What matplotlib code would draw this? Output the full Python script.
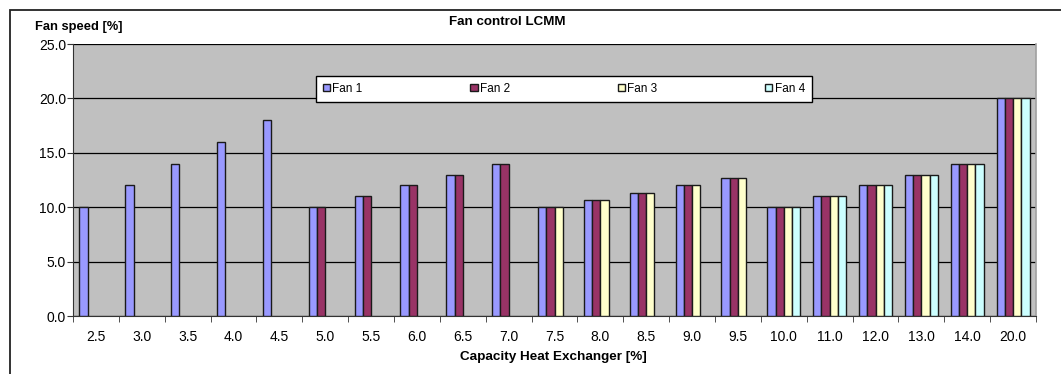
import matplotlib
matplotlib.use("Agg")
import matplotlib.pyplot as plt
import numpy as np
from matplotlib.patches import Rectangle

plt.rcParams['font.family'] = ['Liberation Sans', 'DejaVu Sans']

categories = ["2.5", "3.0", "3.5", "4.0", "4.5", "5.0", "5.5", "6.0", "6.5", "7.0",
              "7.5", "8.0", "8.5", "9.0", "9.5", "10.0", "11.0", "12.0", "13.0", "14.0", "20.0"]
fan1 = [10, 12, 14, 16, 18, 10, 11, 12, 13, 14,
        10, 10.67, 11.33, 12, 12.67, 10, 11, 12, 13, 14, 20]
fan2 = [None, None, None, None, None, 10, 11, 12, 13, 14,
        10, 10.67, 11.33, 12, 12.67, 10, 11, 12, 13, 14, 20]
fan3 = [None] * 10 + [10, 10.67, 11.33, 12, 12.67, 10, 11, 12, 13, 14, 20]
fan4 = [None] * 15 + [10, 11, 12, 13, 14, 20]
series = {"Fan 1": fan1, "Fan 2": fan2, "Fan 3": fan3, "Fan 4": fan4}
colors = ["#9999FF", "#993366", "#FFFFCC", "#CCFFFF"]

fig = plt.figure(figsize=(10.61, 3.74), dpi=100)
ax = fig.add_axes([73 / 1061, 58 / 374, 963 / 1061, 272 / 374])
ax.set_facecolor("#C0C0C0")

x = np.arange(len(categories))
w = 0.18
for i, (name, vals) in enumerate(series.items()):
    xs = [x[j] + (i - 1.5) * w for j, v in enumerate(vals) if v is not None]
    hs = [v for v in vals if v is not None]
    ax.bar(xs, hs, width=w, color=colors[i], edgecolor="#1a1a1a",
           linewidth=1.0, label=name, zorder=3)

ax.set_xlim(-0.5, len(categories) - 0.5)
ax.set_ylim(0, 25)
ax.set_yticks(np.arange(0, 26, 5))
ax.set_yticklabels([f"{v:.1f}" for v in np.arange(0, 26, 5)], fontsize=10)
ax.yaxis.grid(True, color="black", linewidth=0.9, zorder=1)
ax.set_axisbelow(True)

ax.set_xticks(x)
ax.set_xticklabels(categories, fontsize=10)
ax.tick_params(axis='x', which='major', length=0, pad=10)
ax.set_xticks(np.arange(-0.5, len(categories), 1), minor=True)
ax.tick_params(axis='x', which='minor', length=4, direction='out', color="#333333")
ax.tick_params(axis='y', length=4, direction='out', color="#333333", pad=1)

ax.spines['top'].set_visible(False)
ax.spines['right'].set_color("#A0A0A0")
ax.spines['right'].set_linewidth(1.2)
ax.spines['left'].set_color("#333333")
ax.spines['bottom'].set_color("#333333")

ax.legend(loc="lower left", bbox_to_anchor=(0.2523, 0.787, 0.515, 0.107),
          mode="expand", ncol=4, fontsize=8.5, frameon=True, fancybox=False,
          edgecolor="black", framealpha=1, handlelength=0.6, handleheight=0.6,
          handletextpad=0.2, borderaxespad=0, borderpad=0.6)

fig.text(507 / 1061, 1 - 22 / 374, "Fan control LCMM", fontsize=9.6, fontweight="bold",
         ha="center", va="center")
fig.text(35 / 1061, 1 - 27 / 374, "Fan speed [%]", fontsize=9.3, fontweight="bold",
         ha="left", va="center")
fig.text(553 / 1061, 1 - 357 / 374, "Capacity Heat Exchanger [%]", fontsize=9.7,
         fontweight="bold", ha="center", va="center")

fig.patches.append(Rectangle((10 / 1061, -0.1), 1.2, 1 - 10 / 374 + 0.1,
                             transform=fig.transFigure, fill=False,
                             edgecolor="#222222", linewidth=1.3))

fig.savefig("out.png", dpi=100)
